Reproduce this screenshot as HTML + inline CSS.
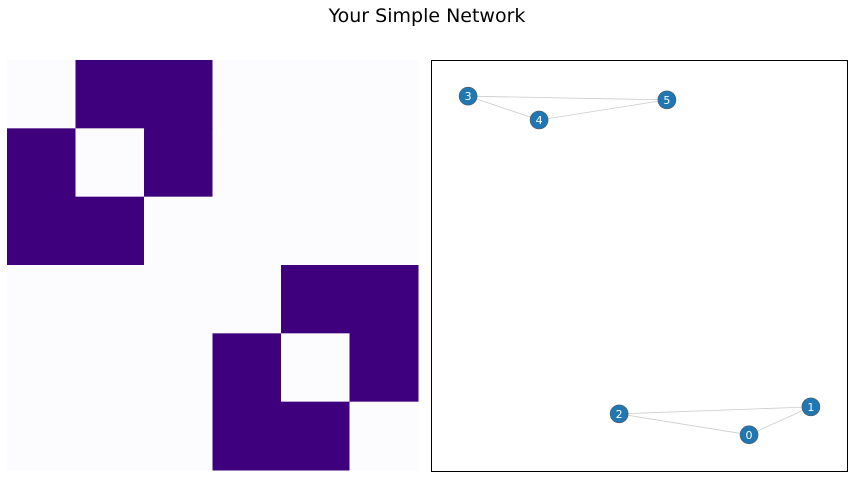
<!DOCTYPE html>
<html><head><meta charset="utf-8"><style>
body{margin:0;background:#fff;}
svg{display:block;font-family:"DejaVu Sans","Liberation Sans",sans-serif;}
</style></head><body>
<svg id="fig" width="854" height="478">
<text x="427" y="22" text-anchor="middle" font-size="19" fill="#000">Your Simple Network</text>
<g id="heat"></g>
<rect x="431.5" y="60.5" width="416" height="411" fill="none" stroke="#000" stroke-width="1"/>
<g id="edges"></g>
<g id="nodes"></g>
</svg>
<script>
const matrix=[[0,1,1,0,0,0],[1,0,1,0,0,0],[1,1,0,0,0,0],[0,0,0,0,1,1],[0,0,0,1,0,1],[0,0,0,1,1,0]];
const nodeIds=[0,1,2,3,4,5];
const nodeX=[0.764,0.913,0.451,0.087,0.258,0.566];
const nodeY=[0.088,0.156,0.139,0.912,0.854,0.903];
const edgeList=[[0,1],[0,2],[1,2],[3,4],[3,5],[4,5]];
const NS="http://www.w3.org/2000/svg";
const heat=document.getElementById('heat');
const hx=7,hy=60,hw=411,hh=410,n=matrix.length;
for(let r=0;r<n;r++)for(let c=0;c<n;c++){
 const el=document.createElementNS(NS,'rect');
 const x0=hx+c*hw/n,x1=hx+(c+1)*hw/n,y0=hy+r*hh/n,y1=hy+(r+1)*hh/n;
 el.setAttribute('x',x0);el.setAttribute('y',y0);
 el.setAttribute('width',x1-x0+0.5);el.setAttribute('height',y1-y0+0.5);
 el.setAttribute('fill',matrix[r][c]?'#3f007d':'#fcfbfd');
 
 
 heat.appendChild(el);
}
const px=v=>432+v*415, py=v=>471-v*411;
const eg=document.getElementById('edges');
edgeList.forEach(([a,b])=>{
 const l=document.createElementNS(NS,'line');
 l.setAttribute('x1',px(nodeX[a]));l.setAttribute('y1',py(nodeY[a]));
 l.setAttribute('x2',px(nodeX[b]));l.setAttribute('y2',py(nodeY[b]));
 l.setAttribute('stroke','#cccccc');l.setAttribute('stroke-width','0.8');
 
 
 eg.appendChild(l);
});
const ng=document.getElementById('nodes');
nodeIds.forEach((id,i)=>{
 const c=document.createElementNS(NS,'circle');
 c.setAttribute('cx',px(nodeX[i]));c.setAttribute('cy',py(nodeY[i]));c.setAttribute('r',9);
 c.setAttribute('fill','#1f77b4');c.setAttribute('stroke','#555');c.setAttribute('stroke-width','0.6');
 
 
 ng.appendChild(c);
 const t=document.createElementNS(NS,'text');
 t.setAttribute('x',px(nodeX[i]));t.setAttribute('y',py(nodeY[i])+4);
 t.setAttribute('text-anchor','middle');t.setAttribute('font-size','11');t.setAttribute('fill','#fff');
 t.textContent=id;
 
 
 ng.appendChild(t);
});
</script>
</body></html>
